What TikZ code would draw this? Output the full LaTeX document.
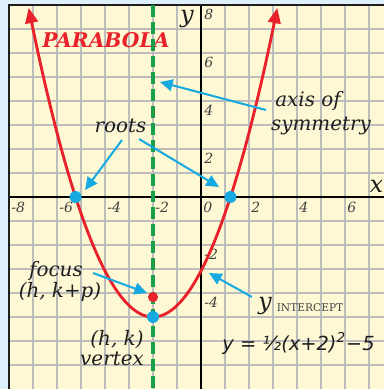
\documentclass[tikz,border=0pt]{standalone}
\usepackage{fontspec}
\setmainfont{DejaVu Serif}
\newfontfamily\eqfont{DejaVu Sans}
\usetikzlibrary{arrows.meta}
\definecolor{bgblue}{HTML}{DDF0FC}
\definecolor{cream}{HTML}{FEF9D4}
\definecolor{gridgray}{HTML}{BDBDBD}
\definecolor{pred}{HTML}{E8212B}
\definecolor{pgreen}{HTML}{1A9E48}
\definecolor{pblue}{HTML}{17A9E1}
\definecolor{ink}{HTML}{1E1E1E}
\begin{document}
\begin{tikzpicture}[x=0.5cm,y=0.5cm,
  gridline/.style={gridgray, line width=0.75pt},
  axisline/.style={black, line width=0.9pt},
  frameline/.style={ink, line width=1.1pt},
  ticklbl/.style={font=\itshape\fontsize{8.3}{9}\selectfont, text=ink!85, inner sep=0pt, anchor=north west},
  curve/.style={pred, line width=1.7pt, {Triangle[length=9pt,width=7.5pt]}-{Triangle[length=9pt,width=7.5pt]}},
  symline/.style={pgreen, line width=1.8pt, dash pattern=on 7pt off 3pt},
  bluedot/.style={circle, fill=pblue, inner sep=0pt, minimum size=0.25cm},
  reddot/.style={circle, fill=pred, inner sep=0pt, minimum size=0.21cm},
  bluearrow/.style={pblue, line width=1.2pt, -{Triangle[length=7.5pt,width=7pt]}},
  lbl/.style={font=\itshape\fontsize{11.8}{13}\selectfont, text=ink, inner sep=0pt, anchor=base},
  axlbl/.style={font=\itshape\fontsize{14}{16}\selectfont, text=ink, inner sep=0pt, anchor=base},
  title/.style={font=\bfseries\itshape\fontsize{12}{14}\selectfont, text=pred, inner sep=0pt}
]
\useasboundingbox (-8.375,-8) rectangle (7.625,8.2083);
\fill[bgblue] (-8.375,-8) rectangle (7.625,8.2083);
\fill[cream] (-8,-8) rectangle (7.625,8);
% grid
\foreach \k in {-7,...,7} {
  \draw[gridline] (\k,-8) -- (\k,8);
  \draw[gridline] (-8,\k) -- (7.625,\k);
}
% axes and frame
\draw[axisline] (-8,0) -- (7.625,0);
\draw[axisline] (0,-8) -- (0,8);
\draw[frameline] (-8,-8) -- (-8,8) -- (7.625,8);
% tick labels
\foreach \k in {-8,-6,-4,-2,0,2,4,6} {
  \node[ticklbl] (tx\k) at ([xshift=1.2pt,yshift=-2.6pt]\k,0) {\k};
}
\foreach \k in {8,6,4,2,-2,-4} {
  \node[ticklbl] (ty\k) at ([xshift=1.8pt,yshift=-2.2pt]0,\k) {\k};
}
% axis letters
\node[axlbl] (ylab) at (-0.583,7.29) {y};
\node[axlbl, anchor=base east] (xlab) at (7.6,0.2) {x};
% parabola
\draw[curve] plot[domain=-7.18:3.18, samples=90, smooth] (\x, {0.48*(\x+2)^2-5});
% title
\node[title] (parabola) at (-3.958,6.542) {PARABOLA};
% axis of symmetry
\draw[symline] (-2,8) -- (-2,-8);
% points
\node[bluedot] (rootL) at (-5.227,0) {};
\node[bluedot] (rootR) at (1.227,0) {};
\node[bluedot] (vertex) at (-2,-5) {};
\node[reddot] (focus) at (-2,-4.17) {};
% labels
\node[lbl] (roots) at (-3.354,2.667) {roots};
\node[lbl] (axisA) at (4.458,3.75) {axis of};
\node[lbl] (axisB) at (5.0,2.79) {symmetry};
\node[lbl] (focusA) at (-6.042,-3.333) {focus};
\node[lbl] (focusB) at (-5.875,-4.167) {(h, k+p)};
\node[lbl] (vertA) at (-3.5,-6.167) {(h, k)};
\node[lbl] (vertB) at (-3.708,-7.0) {vertex};
\node[axlbl] (yint) at (2.667,-4.667) {y};
\node[font=\fontsize{6.3}{7}\selectfont, text=ink!85, inner sep=0pt, anchor=base] (intercept) at (4.542,-4.75) {INTERCEPT};
\node[font=\eqfont\itshape\fontsize{11.5}{13}\selectfont, text=ink, inner sep=0pt, anchor=base] (eq) at (4.0625,-6.375) {y = ½(x+2)\textsuperscript{2}−5};
% arrows
\coordinate (axS) at (2.708,3.625);
\coordinate (axT) at (-1.708,4.792);
\coordinate (rLS) at (-3.292,2.375);
\coordinate (rLT) at (-4.833,0.292);
\coordinate (rRS) at (-2.583,2.417);
\coordinate (rRT) at (0.75,0.417);
\coordinate (fS) at (-4.5,-3.167);
\coordinate (fT) at (-2.25,-4.0);
\coordinate (yS) at (2.125,-4.167);
\coordinate (yT) at (0.333,-3.167);
\draw[bluearrow] (axS) -- (axT);
\draw[bluearrow] (rLS) -- (rLT);
\draw[bluearrow] (rRS) -- (rRT);
\draw[bluearrow] (fS) -- (fT);
\draw[bluearrow] (yS) -- (yT);
\end{tikzpicture}
\end{document}
